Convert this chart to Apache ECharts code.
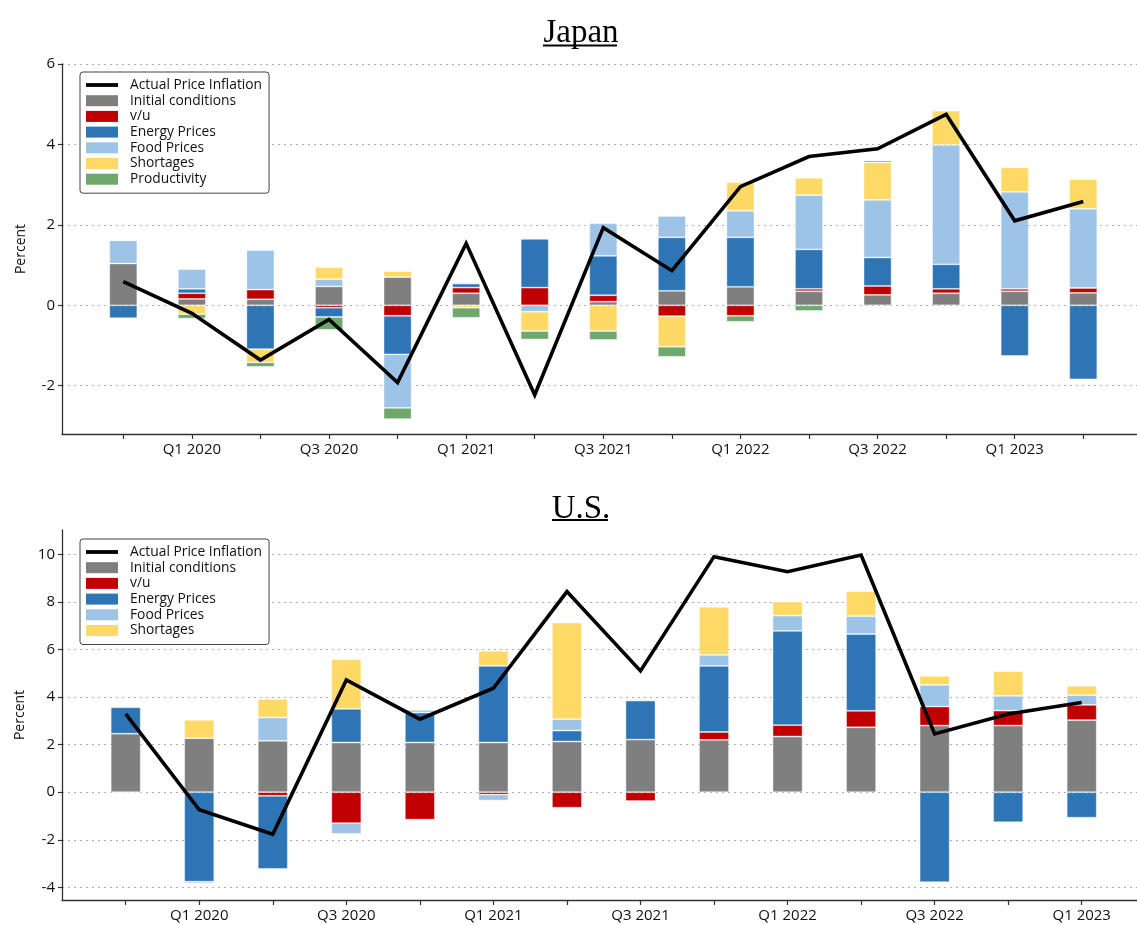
<!DOCTYPE html>
<html>
<head>
<meta charset="utf-8">
<title>Price inflation decomposition: Japan and U.S.</title>
<script src="https://cdn.jsdelivr.net/npm/echarts@6/dist/echarts.min.js"></script>
<style>
  html, body { margin: 0; padding: 0; background: #fff; }
  #chart { width: 1137px; height: 925px; }
</style>
</head>
<body>
<div id="chart"></div>
<script>
// Quarters on each panel's horizontal axis
const quartersJP = ['Q4 2019','Q1 2020','Q2 2020','Q3 2020','Q4 2020','Q1 2021','Q2 2021','Q3 2021',
                    'Q4 2021','Q1 2022','Q2 2022','Q3 2022','Q4 2022','Q1 2023','Q2 2023'];
const quartersUS = ['Q4 2019','Q1 2020','Q2 2020','Q3 2020','Q4 2020','Q1 2021','Q2 2021','Q3 2021',
                    'Q4 2021','Q1 2022','Q2 2022','Q3 2022','Q4 2022','Q1 2023'];
// Quarter positions that carry a text label
const labeledJP = [1, 3, 5, 7, 9, 11, 13];
const labeledUS = [1, 3, 5, 7, 9, 11, 13];
// Value-axis tick values
const yTicksJP = [-2, 0, 2, 4, 6];
const yTicksUS = [-4, -2, 0, 2, 4, 6, 8, 10];

// Japan: contributions to price inflation (percent)
const jpActual  = [0.59, -0.20, -1.36, -0.35, -1.92, 1.54, -2.23, 1.93, 0.86, 2.95, 3.70, 3.89, 4.75, 2.10, 2.58];
const jpInitial = [1.04, 0.16, 0.15, 0.47, 0.70, 0.30, 0.00, 0.09, 0.36, 0.46, 0.35, 0.26, 0.30, 0.35, 0.31];
const jpVU      = [0.00, 0.14, 0.24, -0.06, -0.26, 0.14, 0.44, 0.16, -0.27, -0.26, 0.06, 0.22, 0.11, 0.06, 0.12];
const jpEnergy  = [-0.32, 0.11, -1.09, -0.23, -0.96, 0.10, 1.21, 0.98, 1.33, 1.23, 0.98, 0.71, 0.61, -1.26, -1.84];
const jpFood    = [0.58, 0.49, 0.98, 0.18, -1.33, 0.03, -0.16, 0.81, 0.53, 0.66, 1.35, 1.43, 2.97, 2.41, 1.97];
const jpShort   = [0.00, -0.22, -0.33, 0.30, 0.15, -0.06, -0.48, -0.64, -0.76, 0.71, 0.43, 0.93, 0.85, 0.61, 0.74];
const jpProd    = [0.00, -0.11, -0.11, -0.32, -0.28, -0.25, -0.21, -0.22, -0.25, -0.15, -0.14, 0.05, 0.00, 0.00, 0.00];

// U.S.: contributions to price inflation (percent)
const usActual  = [3.29, -0.74, -1.77, 4.72, 3.07, 4.37, 8.43, 5.10, 9.90, 9.27, 9.97, 2.45, 3.29, 3.77];
const usInitial = [2.46, 2.27, 2.16, 2.09, 2.09, 2.09, 2.13, 2.21, 2.20, 2.34, 2.73, 2.80, 2.80, 3.03];
const usVU      = [0.00, 0.00, -0.15, -1.30, -1.15, -0.10, -0.65, -0.37, 0.33, 0.48, 0.69, 0.80, 0.63, 0.64];
const usEnergy  = [1.11, -3.76, -3.07, 1.41, 1.26, 3.22, 0.46, 1.64, 2.78, 3.96, 3.23, -3.78, -1.26, -1.07];
const usFood    = [-0.04, -0.07, 0.98, -0.45, 0.11, -0.25, 0.48, 0.06, 0.46, 0.64, 0.75, 0.91, 0.62, 0.41];
const usShort   = [0.00, 0.77, 0.78, 2.09, 0.04, 0.63, 4.06, 0.00, 2.02, 0.59, 1.05, 0.38, 1.04, 0.39];

const COLORS = {
  'Actual Price Inflation': '#000000',
  'Initial conditions': '#7f7f7f',
  'v/u': '#c00000',
  'Energy Prices': '#2e75b6',
  'Food Prices': '#9dc3e6',
  'Shortages': '#ffd966',
  'Productivity': '#6fa86c'
};

const SANS = '"Open Sans", "Noto Sans", sans-serif';
const SERIF = '"Liberation Serif", "DejaVu Serif", serif';

// Panel geometry: plot frame plus the band layout of the quarters inside it
const FRAME_LEFT = 62, FRAME_WIDTH = 1075, PLOT_H = 370;
const panels = [
  { top: 64,  firstTick: 123.3, step: 68.57, count: quartersJP.length, yMin: -3.2,  yMax: 6 },
  { top: 530, firstTick: 125.7, step: 73.54, count: quartersUS.length, yMin: -4.53, yMax: 11.02 }
];

// Grids 0/1: data grids (category bands). Grids 2/3: axis frames drawn around them.
const grids = [];
panels.forEach(p => {
  grids.push({ left: p.firstTick - p.step / 2, top: p.top, width: p.step * p.count, height: PLOT_H });
});
panels.forEach(p => {
  grids.push({ left: FRAME_LEFT, top: p.top, width: FRAME_WIDTH, height: PLOT_H });
});

function dataXAxis(gridIdx, quarters) {
  return { type: 'category', gridIndex: gridIdx, data: quarters, boundaryGap: true, show: false };
}
function dataYAxis(gridIdx, p) {
  return { type: 'value', gridIndex: gridIdx, min: p.yMin, max: p.yMax, show: false, splitLine: { show: false } };
}

function frameXAxis(gridIdx, quarters, labeled, p) {
  const min = -(p.firstTick - FRAME_LEFT) / p.step;
  const max = min + FRAME_WIDTH / p.step;
  return {
    type: 'value',
    gridIndex: gridIdx,
    min: min,
    max: max,
    axisLine: { show: true, onZero: false, lineStyle: { color: '#333', width: 1.3 } },
    axisTick: { show: true, length: 5, customValues: quarters.map((q, i) => i), lineStyle: { color: '#333', width: 1.2 } },
    axisLabel: {
      customValues: labeled,
      formatter: v => quarters[Math.round(v)] || '',
      color: '#111', fontFamily: SANS, fontSize: 15, margin: 8
    },
    splitLine: { show: false }
  };
}

function frameYAxis(gridIdx, ticks, p) {
  return {
    type: 'value',
    gridIndex: gridIdx,
    min: p.yMin,
    max: p.yMax,
    name: 'Percent',
    nameLocation: 'middle',
    nameGap: 34,
    nameTextStyle: { color: '#111', fontFamily: SANS, fontSize: 14 },
    axisLine: { show: true, onZero: false, lineStyle: { color: '#333', width: 1.3 } },
    axisTick: { show: true, length: 4, customValues: ticks, lineStyle: { color: '#333', width: 1.2 } },
    axisLabel: { customValues: ticks, color: '#111', fontFamily: SANS, fontSize: 15, margin: 7 },
    splitLine: { show: true, lineStyle: { color: '#b0b0b0', width: 1.2, type: [2, 4] } }
  };
}

function barSeries(name, values, axisIdx, stack, width) {
  return {
    type: 'bar',
    name: name,
    xAxisIndex: axisIdx,
    yAxisIndex: axisIdx,
    stack: stack,
    stackStrategy: 'samesign',
    barWidth: width,
    data: values,
    itemStyle: { color: COLORS[name], borderColor: 'rgba(255,255,255,0.55)', borderWidth: 0.8 },
    emphasis: { disabled: true },
    z: 2
  };
}

function lineSeries(values, axisIdx) {
  return {
    type: 'line',
    name: 'Actual Price Inflation',
    xAxisIndex: axisIdx,
    yAxisIndex: axisIdx,
    data: values,
    symbol: 'none',
    lineStyle: { color: '#000', width: 3.6, join: 'miter', cap: 'butt' },
    itemStyle: { color: '#000' },
    emphasis: { disabled: true },
    z: 5
  };
}

// Thick horizontal stroke used as the line entry's legend key
const LINE_KEY = 'path://M0,0 M0,3.6 L32,3.6 L32,7.4 L0,7.4 Z M32,11';

function legend(top, names) {
  return {
    orient: 'vertical',
    left: 80,
    top: top,
    data: names.map(n => ({ name: n, icon: n === 'Actual Price Inflation' ? LINE_KEY : 'rect' })),
    itemWidth: 32,
    itemHeight: 11,
    itemGap: 1.7,
    padding: [6, 7, 7, 6],
    backgroundColor: '#fff',
    borderColor: '#444',
    borderWidth: 1,
    borderRadius: 3,
    itemStyle: { borderWidth: 0 },
    textStyle: { color: '#111', fontFamily: SANS, fontSize: 13.8, lineHeight: 12, padding: [0, 0, 0, 7] },
    selectedMode: false
  };
}

const namesJP = ['Actual Price Inflation', 'Initial conditions', 'v/u', 'Energy Prices', 'Food Prices', 'Shortages', 'Productivity'];
const namesUS = ['Actual Price Inflation', 'Initial conditions', 'v/u', 'Energy Prices', 'Food Prices', 'Shortages'];

const titleStyle = { fontFamily: SERIF, fontSize: 33, fontWeight: 'normal', color: '#000' };

const option = {
  animation: false,
  backgroundColor: '#fff',
  title: [
    { text: 'Japan', left: 576, top: 12, textAlign: 'center', textStyle: titleStyle },
    { text: 'U.S.', left: 576, top: 488, textAlign: 'center', textStyle: titleStyle }
  ],
  graphic: [
    { type: 'line', shape: { x1: 543, y1: 45.5, x2: 617, y2: 45.5 }, style: { stroke: '#000', lineWidth: 2.2 } },
    { type: 'line', shape: { x1: 552, y1: 520, x2: 608, y2: 520 }, style: { stroke: '#000', lineWidth: 2.2 } }
  ],
  legend: [legend(72, namesJP), legend(539, namesUS)],
  grid: grids,
  xAxis: [
    dataXAxis(0, quartersJP),
    dataXAxis(1, quartersUS),
    frameXAxis(2, quartersJP, labeledJP, panels[0]),
    frameXAxis(3, quartersUS, labeledUS, panels[1])
  ],
  yAxis: [
    dataYAxis(0, panels[0]),
    dataYAxis(1, panels[1]),
    frameYAxis(2, yTicksJP, panels[0]),
    frameYAxis(3, yTicksUS, panels[1])
  ],
  series: [
    barSeries('Initial conditions', jpInitial, 0, 'jp', 28),
    barSeries('v/u', jpVU, 0, 'jp', 28),
    barSeries('Energy Prices', jpEnergy, 0, 'jp', 28),
    barSeries('Food Prices', jpFood, 0, 'jp', 28),
    barSeries('Shortages', jpShort, 0, 'jp', 28),
    barSeries('Productivity', jpProd, 0, 'jp', 28),
    lineSeries(jpActual, 0),
    barSeries('Initial conditions', usInitial, 1, 'us', 30),
    barSeries('v/u', usVU, 1, 'us', 30),
    barSeries('Energy Prices', usEnergy, 1, 'us', 30),
    barSeries('Food Prices', usFood, 1, 'us', 30),
    barSeries('Shortages', usShort, 1, 'us', 30),
    lineSeries(usActual, 1)
  ]
};

const chart = echarts.init(document.getElementById('chart'), null, { renderer: 'canvas' });
chart.setOption(option);
</script>
</body>
</html>
